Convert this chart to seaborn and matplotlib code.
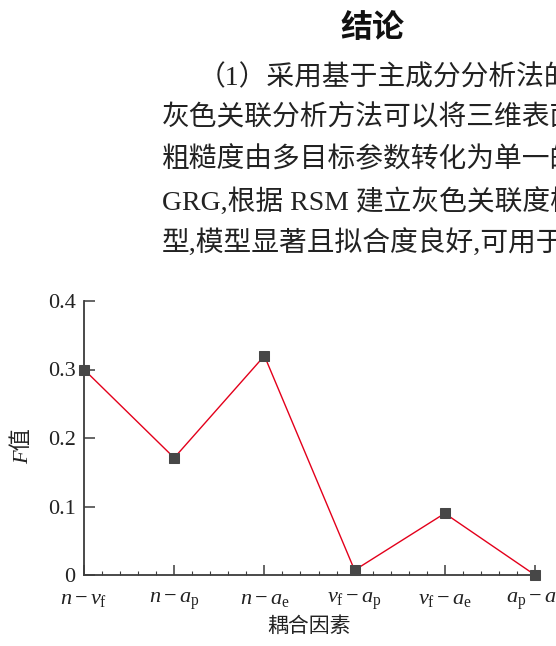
import matplotlib
matplotlib.use("Agg")
import matplotlib.pyplot as plt
from matplotlib.ticker import AutoMinorLocator
import seaborn as sns
import pandas as pd

# ---- data ----
categories = [r"$n-v_{\mathrm{f}}$", r"$n-a_{\mathrm{p}}$", r"$n-a_{\mathrm{e}}$",
              r"$v_{\mathrm{f}}-a_{\mathrm{p}}$", r"$v_{\mathrm{f}}-a_{\mathrm{e}}$",
              r"$a_{\mathrm{p}}-a_{\mathrm{e}}$"]
f_values = [0.30, 0.171, 0.32, 0.007, 0.09, 0.0]
y_ticks = [0, 0.1, 0.2, 0.3, 0.4]
y_tick_labels = ["0", "0.1", "0.2", "0.3", "0.4"]

title_text = "结论"
body_lines = [
    "（1）采用基于主成分分析法的",
    "灰色关联分析方法可以将三维表面",
    "粗糙度由多目标参数转化为单一的",
    "GRG,根据 RSM 建立灰色关联度模",
    "型,模型显著且拟合度良好,可用于",
]
body_x = [198, 162, 162, 162, 162]
line_y = [78, 118, 160, 202, 243]

sns.set_theme(style="ticks")
plt.rcParams["font.family"] = ["Liberation Serif", "Noto Sans CJK SC"]
plt.rcParams["mathtext.fontset"] = "custom"
plt.rcParams["mathtext.rm"] = "Liberation Serif"
plt.rcParams["mathtext.it"] = "Liberation Serif:italic"
plt.rcParams["mathtext.bf"] = "Liberation Serif:bold"

W, H = 556, 646
fig = plt.figure(figsize=(W / 100, H / 100), dpi=100)
ax = fig.add_axes([84 / W, 1 - 575 / H, (535 - 84) / W, (575 - 301) / H])

df = pd.DataFrame({"pos": list(range(len(categories))), "F": f_values})
axis_color = "#3c3c3c"
sns.lineplot(data=df, x="pos", y="F", ax=ax, color="#e3001b", linewidth=1.0,
             marker="s", markersize=7, markerfacecolor="#474747",
             markeredgecolor="#474747", clip_on=False, zorder=3)

ax.set_xlim(0, len(categories) - 1)
ax.set_ylim(0, 0.4)
ax.set_xticks(range(len(categories)))
ax.set_xticklabels(categories, fontsize=16)
ax.set_yticks(y_ticks)
ax.set_yticklabels(y_tick_labels, fontsize=16)
ax.xaxis.set_minor_locator(AutoMinorLocator(5))

for side in ["top", "right"]:
    ax.spines[side].set_visible(False)
for side in ["left", "bottom"]:
    ax.spines[side].set_color(axis_color)
    ax.spines[side].set_linewidth(1.3)

ax.tick_params(axis="x", which="major", direction="in", length=7, width=1.1,
               color=axis_color, pad=11, labelcolor="#222222")
ax.tick_params(axis="x", which="minor", direction="in", length=3, width=0.8,
               color=axis_color)
ax.tick_params(axis="y", which="major", direction="in", length=8, width=1.1,
               color=axis_color, pad=6, labelcolor="#222222")

ax.set_xlabel("耦合因素", fontsize=15, color="#222222", labelpad=2,
              family=["Noto Sans CJK SC"])
ax.set_ylabel("F值", fontsize=16, color="#222222",
              family=["Liberation Serif", "Noto Sans CJK SC"], style="italic")
ax.yaxis.set_label_coords(-0.113, 0.47)

# ---- text above chart ----
fig.text(372 / W, 1 - 28 / H, title_text, fontsize=23, fontweight="bold",
         ha="center", va="center", family=["Noto Sans CJK SC"], color="#111111")
for txt, x, y in zip(body_lines, body_x, line_y):
    fig.text(x / W, 1 - y / H, txt, fontsize=20, ha="left", va="center",
             color="#222222", family=["Liberation Serif", "Noto Sans CJK SC"])

fig.savefig("out.png", dpi=100)
